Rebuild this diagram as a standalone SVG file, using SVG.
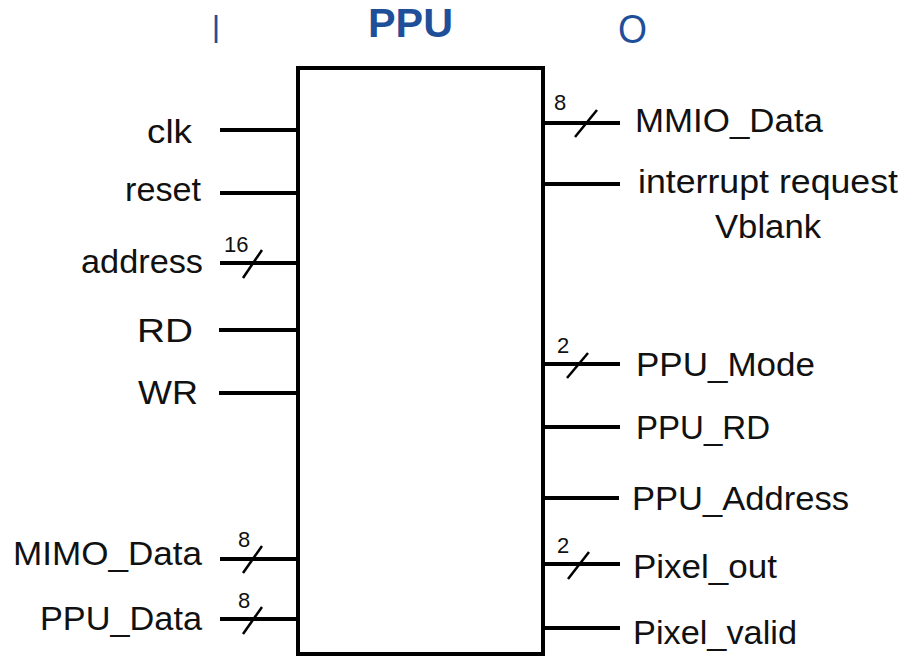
<svg xmlns="http://www.w3.org/2000/svg" width="906" height="657" viewBox="0 0 906 657">
<style>
.lbl{font-family:"Liberation Sans",Arial,sans-serif;font-size:33px;fill:#111}
.num{font-family:"Liberation Sans",Arial,sans-serif;font-size:22px;fill:#111}
.ttl{font-family:"Liberation Sans",Arial,sans-serif;font-size:41px;fill:#1f4f99}
.w{stroke:#000;stroke-width:4;fill:none}
.s{stroke:#000;stroke-width:2.5;fill:none}
</style>
<rect width="906" height="657" fill="#fff"/>
<g id="titles">
<text class="ttl" x="212" y="43" textLength="8" lengthAdjust="spacingAndGlyphs">I</text>
<text class="ttl" x="368" y="37" font-weight="bold" textLength="85" lengthAdjust="spacingAndGlyphs">PPU</text>
<text class="ttl" x="618" y="43" textLength="29" lengthAdjust="spacingAndGlyphs">O</text>
</g>
<g id="ppu">
<rect class="w" x="298" y="68" width="245" height="586"/>
</g>
<g id="connectors">
<line class="w" x1="220" y1="130" x2="298" y2="130"/>
<line class="w" x1="220" y1="193" x2="298" y2="193"/>
<line class="w" x1="220" y1="263" x2="298" y2="263"/>
<line class="w" x1="219" y1="330" x2="298" y2="330"/>
<line class="w" x1="219" y1="393" x2="298" y2="393"/>
<line class="w" x1="220" y1="559" x2="298" y2="559"/>
<line class="w" x1="220" y1="619" x2="298" y2="619"/>
<line class="w" x1="543" y1="123" x2="620" y2="123"/>
<line class="w" x1="543" y1="184" x2="620" y2="184"/>
<line class="w" x1="543" y1="364" x2="620" y2="364"/>
<line class="w" x1="543" y1="427" x2="620" y2="427"/>
<line class="w" x1="543" y1="498" x2="619" y2="498"/>
<line class="w" x1="543" y1="564" x2="620" y2="564"/>
<line class="w" x1="543" y1="628" x2="620" y2="628"/>
<line class="s" x1="243" y1="278" x2="262" y2="250"/>
<line class="s" x1="243" y1="573" x2="262" y2="546"/>
<line class="s" x1="243" y1="634" x2="262" y2="607"/>
<line class="s" x1="575" y1="137" x2="597" y2="110"/>
<line class="s" x1="567" y1="378" x2="588" y2="353"/>
<line class="s" x1="568" y1="579" x2="589" y2="552"/>
</g>
<g id="inputs">
<text class="lbl" x="192" y="143" text-anchor="end" textLength="45" lengthAdjust="spacingAndGlyphs">clk</text>
<text class="lbl" x="201" y="201" text-anchor="end" textLength="76" lengthAdjust="spacingAndGlyphs">reset</text>
<text class="lbl" x="203" y="273" text-anchor="end" textLength="122" lengthAdjust="spacingAndGlyphs">address</text>
<text class="lbl" x="193" y="342" text-anchor="end" textLength="56" lengthAdjust="spacingAndGlyphs">RD</text>
<text class="lbl" x="198" y="404" text-anchor="end" textLength="60" lengthAdjust="spacingAndGlyphs">WR</text>
<text class="lbl" x="202" y="565" text-anchor="end" textLength="189" lengthAdjust="spacingAndGlyphs">MIMO_Data</text>
<text class="lbl" x="202" y="630" text-anchor="end" textLength="162" lengthAdjust="spacingAndGlyphs">PPU_Data</text>
<text class="num" x="224" y="252">16</text>
<text class="num" x="238" y="547">8</text>
<text class="num" x="238" y="608">8</text>
</g>
<g id="outputs">
<text class="lbl" x="635" y="132" textLength="188" lengthAdjust="spacingAndGlyphs">MMIO_Data</text>
<text class="lbl" x="638" y="193" textLength="260" lengthAdjust="spacingAndGlyphs">interrupt request</text>
<text class="lbl" x="715" y="238" textLength="106" lengthAdjust="spacingAndGlyphs">Vblank</text>
<text class="lbl" x="636" y="376" textLength="179" lengthAdjust="spacingAndGlyphs">PPU_Mode</text>
<text class="lbl" x="636" y="439" textLength="134" lengthAdjust="spacingAndGlyphs">PPU_RD</text>
<text class="lbl" x="632" y="510" textLength="217" lengthAdjust="spacingAndGlyphs">PPU_Address</text>
<text class="lbl" x="633" y="578" textLength="144" lengthAdjust="spacingAndGlyphs">Pixel_out</text>
<text class="lbl" x="633" y="644" textLength="164" lengthAdjust="spacingAndGlyphs">Pixel_valid</text>
<text class="num" x="554" y="110">8</text>
<text class="num" x="557" y="353">2</text>
<text class="num" x="557" y="553">2</text>
</g>
</svg>
